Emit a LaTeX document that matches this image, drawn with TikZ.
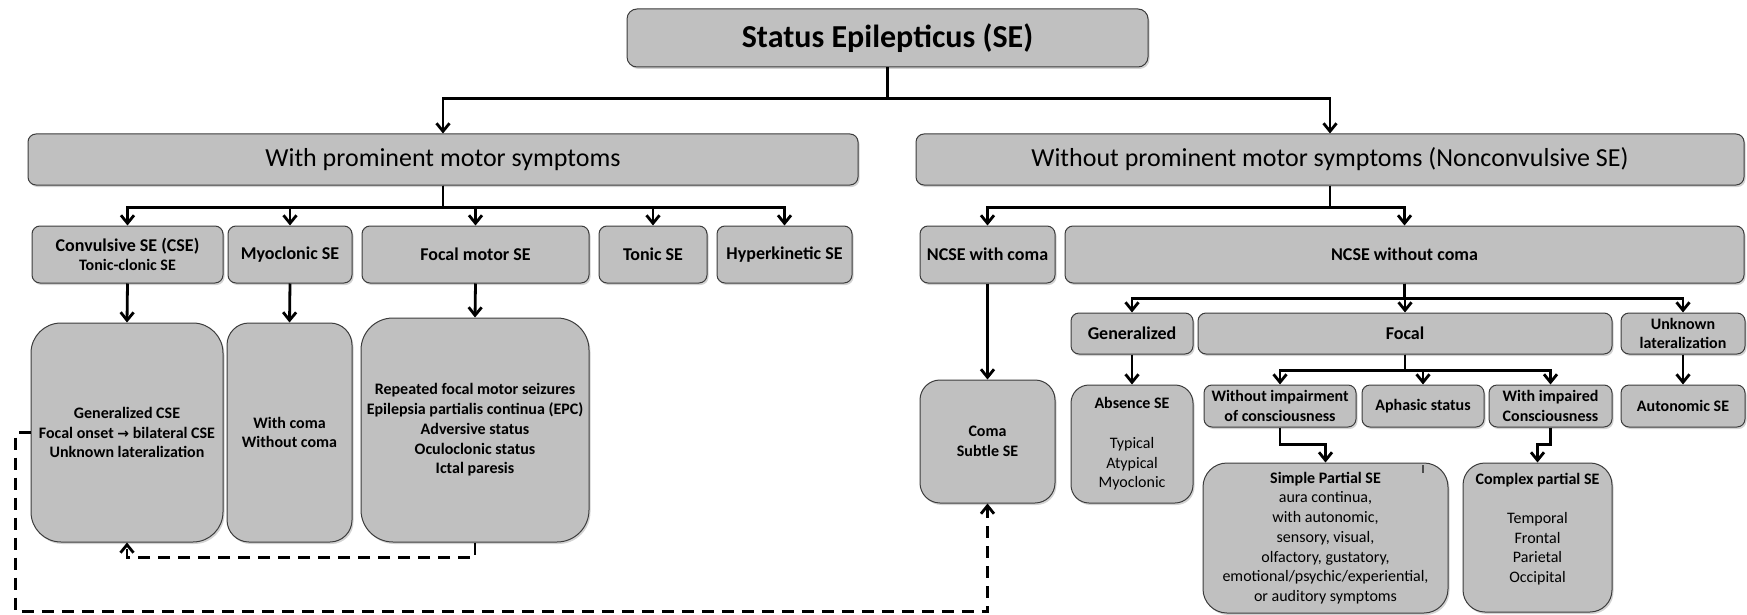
\documentclass[tikz,border=0pt]{standalone}
\usepackage{fontspec}
\setmainfont{Carlito}
\newfontfamily\djv{DejaVu Sans}
\usetikzlibrary{arrows.meta,shadows}
\definecolor{boxfill}{RGB}{192,192,192}
\definecolor{boxline}{RGB}{60,60,60}
\tikzset{
  box/.style={draw=boxline, line width=1pt, fill=boxfill, rounded corners=8pt,
    align=center, inner sep=2pt,
    drop shadow={shadow xshift=1.5pt, shadow yshift=-2pt, opacity=0.35}},
  conn/.style={line width=2.8pt, draw=black},
  arr/.style={conn, -{Straight Barb[length=8pt,width=13pt]}},
  darr/.style={arr, dash pattern=on 12pt off 8pt},
  fA/.style={font=\fontsize{32}{38}\selectfont\bfseries},
  fB/.style={font=\fontsize{26}{31}\selectfont},
  fC/.style={font=\fontsize{18}{21}\selectfont\bfseries},
  fD/.style={font=\fontsize{16}{19.7}\selectfont\bfseries},
  fE/.style={font=\fontsize{16}{19.7}\selectfont},
}
\begin{document}
\begin{tikzpicture}[x=1pt,y=-1pt]
\useasboundingbox (0,0) rectangle (1747,615);
% level 0
\node[box,fA,minimum width=521pt,minimum height=58pt,rounded corners=10pt] (top) at (887.5,38) {Status Epilepticus (SE)};
% level 1
\node[box,fB,minimum width=830pt,minimum height=51pt] (wp) at (443,159.5) {With prominent motor symptoms};
\node[box,fB,minimum width=828pt,minimum height=51pt] (wop) at (1330,159.5) {Without prominent motor symptoms (Nonconvulsive SE)};
% level 2 left
\node[box,fC,minimum width=191pt,minimum height=57pt] (cse) at (127.5,254.5) {Convulsive SE (CSE)\\[-2pt]{\fontsize{16}{19}\selectfont Tonic-clonic SE}};
\node[box,fC,minimum width=124pt,minimum height=57pt] (myo) at (290,254.5) {Myoclonic SE};
\node[box,fC,minimum width=227pt,minimum height=57pt] (fms) at (475.5,254.5) {Focal motor SE};
\node[box,fC,minimum width=108pt,minimum height=57pt] (tonic) at (653,254.5) {Tonic SE};
\node[box,fC,minimum width=135pt,minimum height=57pt] (hyper) at (784.5,254.5) {Hyperkinetic SE};
% level 3 left
\node[box,fD,minimum width=192pt,minimum height=219pt,rounded corners=30pt] (gcse) at (127,432.5) {Generalized CSE\\Focal onset {\djv\bfseries\fontsize{14}{19}\selectfont →} bilateral CSE\\Unknown lateralization};
\node[box,fD,minimum width=125pt,minimum height=219pt,rounded corners=22pt] (wcoma) at (289.5,432.5) {With coma\\Without coma};
\node[box,fD,minimum width=228pt,minimum height=224pt,rounded corners=32pt] (rep) at (475,430) {Repeated focal motor seizures\\Epilepsia partialis continua (EPC)\\Adversive status\\Oculoclonic status\\Ictal paresis};
% level 2 right
\node[box,fC,minimum width=135pt,minimum height=57pt] (ncwc) at (987.5,254.5) {NCSE with coma};
\node[box,fC,minimum width=679pt,minimum height=57pt] (ncwo) at (1404.5,254.5) {NCSE without coma};
\node[box,fD,minimum width=135pt,minimum height=123pt,rounded corners=20pt] (comab) at (987.5,441.5) {Coma\\Subtle SE};
% level 3 right
\node[box,fC,minimum width=122pt,minimum height=41pt] (gen) at (1132,333.5) {Generalized};
\node[box,fC,minimum width=414pt,minimum height=41pt] (focal) at (1405,333.5) {Focal};
\node[box,fD,minimum width=124pt,minimum height=41pt] (unk) at (1683,333.5) {Unknown\\lateralization};
\node[box,fE,minimum width=122pt,minimum height=118pt,rounded corners=18pt] (abs) at (1132,444) {\textbf{Absence SE}\\\strut\\Typical\\Atypical\\Myoclonic};
\node[box,fD,minimum width=152pt,minimum height=42pt] (wimp) at (1280,406) {Without impairment\\of consciousness};
\node[box,fD,minimum width=122pt,minimum height=42pt] (aph) at (1423,406) {Aphasic status};
\node[box,fD,minimum width=123pt,minimum height=42pt] (wip) at (1550.5,406) {With impaired\\Consciousness};
\node[box,fD,minimum width=124pt,minimum height=42pt] (auto) at (1683,406) {Autonomic SE};
\node[box,fE,minimum width=245pt,minimum height=150pt,rounded corners=24pt] (spse) at (1325.5,538) {\textbf{Simple Partial SE}\\aura continua,\\with autonomic,\\sensory, visual,\\olfactory, gustatory,\\emotional/psychic/experiential,\\or auditory symptoms};
\node[box,fE,minimum width=149pt,minimum height=149pt,rounded corners=22pt] (cpse) at (1537.5,537.5) {\textbf{Complex partial SE}\\\strut\\Temporal\\Frontal\\Parietal\\Occipital\\[-6pt]\strut};
\draw[line width=1.2pt,black!70] (1423,465) -- (1423,473);
% connectors
\draw[conn] (top.south) -- ++(0,31) coordinate (b0);
\draw[arr] (b0) -| (wp.north);
\draw[arr] (b0) -| (wop.north);
\foreach \n in {cse,myo,fms,tonic,hyper} \draw[arr] (wp.south) -- ++(0,22) -| (\n.north);
\draw[arr] (cse.south) -- (gcse.north);
\draw[arr] (myo.south) -- (wcoma.north);
\draw[arr] (fms.south) -- (rep.north);
\foreach \n in {ncwc,ncwo} \draw[arr] (wop.south) -- ++(0,22) -| (\n.north);
\draw[arr] (ncwc.south) -- (comab.north);
\foreach \n in {gen,focal,unk} \draw[arr] (ncwo.south) -- ++(0,15) -| (\n.north);
\draw[arr] (gen.south) -- (abs.north);
\draw[arr] (unk.south) -- (auto.north);
\foreach \n in {wimp,aph,wip} \draw[arr] (focal.south) -- ++(0,16) -| (\n.north);
\draw[arr] (wimp.south) -- ++(0,17) -| (spse.north);
\draw[arr] (wip.south) -- ++(0,17) -| (cpse.north);
% dashed
\draw[darr] (rep.south) -- ++(0,15) -| (gcse.south);
\draw[darr] (gcse.west) -- ++(-15,0) -- ++(0,179) -| (comab.south);
\end{tikzpicture}
\end{document}
